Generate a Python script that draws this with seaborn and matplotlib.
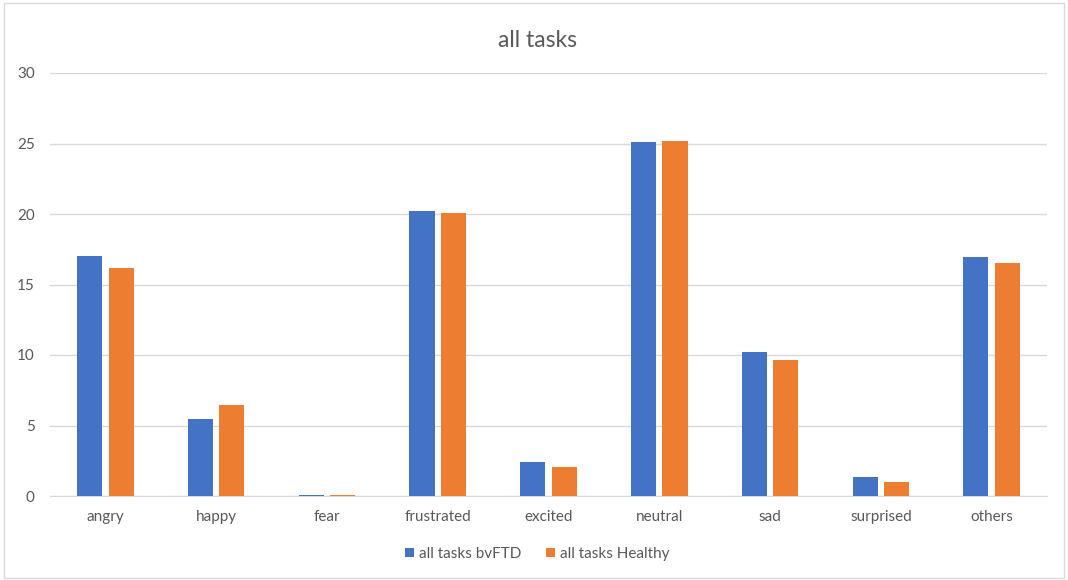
import pandas as pd
import matplotlib
matplotlib.use("Agg")
import matplotlib.pyplot as plt
import seaborn as sns
from matplotlib.patches import Rectangle

emotions = ['angry', 'happy', 'fear', 'frustrated', 'excited',
            'neutral', 'sad', 'surprised', 'others']
bvftd = [17.0, 5.46, 0.09, 20.2, 2.41, 25.13, 10.18, 1.35, 16.94]
healthy = [16.16, 6.47, 0.07, 20.1, 2.08, 25.18, 9.64, 1.02, 16.56]
series_names = ['all tasks bvFTD', 'all tasks Healthy']

df = pd.DataFrame({
    'emotion': emotions * 2,
    'value': bvftd + healthy,
    'group': [series_names[0]] * len(emotions) + [series_names[1]] * len(emotions),
})

sns.set_style("white")
plt.rcParams['font.family'] = ['Lato', 'DejaVu Sans']

fig = plt.figure(figsize=(10.68, 5.8), dpi=100)
ax = fig.add_axes([50 / 1068, 1 - 496 / 580, 997 / 1068, 423 / 580])

palette = {series_names[0]: '#4472C4', series_names[1]: '#ED7D31'}
sns.barplot(data=df, x='emotion', y='value', hue='group', order=emotions,
            hue_order=series_names, palette=palette, width=0.568, gap=0.2,
            saturation=1, linewidth=0, ax=ax, zorder=3)

ax.set_xlim(-0.5, len(emotions) - 0.5)
ax.set_ylim(0, 30)
ax.set_yticks(range(0, 31, 5))
ax.grid(axis='y', color='#D9D9D9', linewidth=1, zorder=0)
ax.set_axisbelow(True)
for s in ['top', 'right', 'left']:
    ax.spines[s].set_visible(False)
ax.spines['bottom'].set_color('#D9D9D9')
ax.spines['bottom'].set_zorder(2)
ax.tick_params(axis='both', length=0, labelsize=11, labelcolor='#595959')
ax.tick_params(axis='y', pad=11)
ax.tick_params(axis='x', pad=10)
ax.set_xlabel('')
ax.set_ylabel('')

fig.suptitle('all tasks', x=0.503, y=0.948, fontsize=16.5, color='#595959')

handles, labels = ax.get_legend_handles_labels()
ax.legend_.remove()
fig.legend(handles, labels, loc='center', bbox_to_anchor=(0.503, 0.045), ncol=2,
           frameon=False, fontsize=11, labelcolor='#595959', handlelength=0.6,
           handleheight=0.6, handletextpad=0.3, columnspacing=1.6)

fig.patches.append(Rectangle((0.004, 0.004), 0.992, 0.99, transform=fig.transFigure,
                             fill=False, edgecolor='#D9D9D9', linewidth=1))

fig.savefig('out.png', dpi=100)
